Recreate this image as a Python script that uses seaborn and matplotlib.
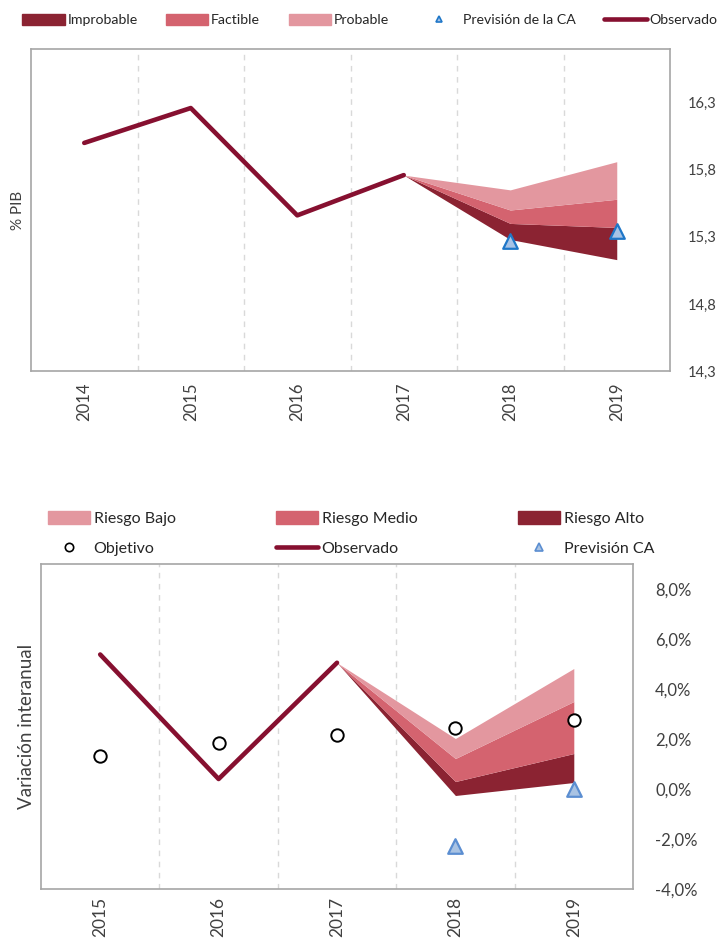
import numpy as np
import pandas as pd
import matplotlib.pyplot as plt
import seaborn as sns
from matplotlib.patches import Patch
from matplotlib.lines import Line2D
from matplotlib.ticker import FuncFormatter

sns.set_style('white')
plt.rcParams['font.family'] = ['Lato', 'DejaVu Sans']

# Data - upper chart (% PIB)

years_top = [2014, 2015, 2016, 2017, 2018, 2019]
observado_top = [16.00, 16.26, 15.46, 15.76, np.nan, np.nan]
prevision_top = [np.nan, np.nan, np.nan, np.nan, 15.27, 15.34]
fan_years_top = [2017, 2018, 2019]
improbable_low = [15.76, 15.28, 15.13]
improbable_high = [15.76, 15.40, 15.37]
factible_high = [15.76, 15.50, 15.58]
probable_high = [15.76, 15.65, 15.86]
yticks_top = [14.3, 14.8, 15.3, 15.8, 16.3]

# Data - lower chart (variacion interanual, %)

years_bot = [2015, 2016, 2017, 2018, 2019]
observado_bot = [5.38, 0.40, 5.05, np.nan, np.nan]
objetivo_bot = [1.34, 1.86, 2.18, 2.46, 2.78]
prevision_bot = [np.nan, np.nan, np.nan, -2.26, 0.0]
fan_years_bot = [2017, 2018, 2019]
alto_low = [5.05, -0.26, 0.26]
alto_high = [5.05, 0.30, 1.42]
medio_high = [5.05, 1.22, 3.50]
bajo_high = [5.05, 2.02, 4.82]
yticks_bot = [-4, -2, 0, 2, 4, 6, 8]

# Colours

c_dark = '#8B2332'
c_mid = '#D4636F'
c_light = '#E3979F'
c_line = '#861030'
c_spine = '#A6A6A6'
c_text = '#404040'

W, H = 717, 944
fig = plt.figure(figsize=(W / 100, H / 100), dpi=100)
ax1 = fig.add_axes([31 / W, 1 - 371 / H, (670 - 31) / W, (371 - 49) / H])
ax2 = fig.add_axes([41 / W, 1 - 889 / H, (633 - 41) / W, (889 - 564) / H])


def style_axis(ax, years, ylim, yticks, fmt, xsize, ysize, xpad, ypad):
    ax.set_xlim(years[0] - 0.5, years[-1] + 0.5)
    ax.set_ylim(*ylim)
    ax.set_xticks(years)
    ax.set_xticklabels([str(y) for y in years], rotation=90)
    ax.set_xticks([y + 0.5 for y in years[:-1]], minor=True)
    ax.grid(False)
    ax.grid(axis='x', which='minor', color='#D9D9D9', ls=(0, (4, 4)), lw=1)
    ax.set_yticks(yticks)
    ax.yaxis.set_major_formatter(FuncFormatter(fmt))
    ax.yaxis.tick_right()
    ax.yaxis.set_label_position('left')
    ax.tick_params(which='both', length=0)
    ax.tick_params(axis='x', labelsize=xsize, colors=c_text, pad=xpad)
    ax.tick_params(axis='y', labelsize=ysize, colors=c_text, pad=ypad)
    for s in ax.spines.values():
        s.set_visible(True)
        s.set_color(c_spine)
        s.set_linewidth(1.2)


# Upper chart

ax1.fill_between(fan_years_top, improbable_low, improbable_high, color=c_dark, lw=0, zorder=2)
ax1.fill_between(fan_years_top, improbable_high, factible_high, color=c_mid, lw=0, zorder=2)
ax1.fill_between(fan_years_top, factible_high, probable_high, color=c_light, lw=0, zorder=2)

top_df = pd.DataFrame({'year': years_top, 'observado': observado_top, 'prevision': prevision_top})
sns.lineplot(data=top_df.dropna(subset=['observado']), x='year', y='observado',
             color=c_line, lw=3.3, ax=ax1, zorder=5)
sns.scatterplot(data=top_df.dropna(subset=['prevision']), x='year', y='prevision',
                marker='^', s=110, color='#A7C3E6', edgecolor='#1F77C8', linewidth=1.6,
                ax=ax1, zorder=6)

style_axis(ax1, years_top, (14.3, 16.7), yticks_top,
           lambda v, p: f'{v:.1f}'.replace('.', ','), 12, 10.5, 8, 13)
ax1.set_xlabel('')
ax1.set_ylabel('% PIB', fontsize=11, color=c_text, labelpad=4)

# Lower chart

ax2.fill_between(fan_years_bot, alto_low, alto_high, color=c_dark, lw=0, zorder=2)
ax2.fill_between(fan_years_bot, alto_high, medio_high, color=c_mid, lw=0, zorder=2)
ax2.fill_between(fan_years_bot, medio_high, bajo_high, color=c_light, lw=0, zorder=2)

bot_df = pd.DataFrame({'year': years_bot, 'observado': observado_bot,
                       'objetivo': objetivo_bot, 'prevision': prevision_bot})
sns.lineplot(data=bot_df.dropna(subset=['observado']), x='year', y='observado',
             color=c_line, lw=3.3, ax=ax2, zorder=5)
sns.scatterplot(data=bot_df, x='year', y='objetivo', marker='o', s=80,
                color='white', edgecolor='black', linewidth=1.4, ax=ax2, zorder=6)
sns.scatterplot(data=bot_df.dropna(subset=['prevision']), x='year', y='prevision',
                marker='^', s=110, color='#A9C3E3', edgecolor='#5B8ED1', linewidth=1.6,
                ax=ax2, zorder=6)

style_axis(ax2, years_bot, (-4, 9), yticks_bot,
           lambda v, p: f'{v:.1f}'.replace('.', ',') + '%', 12.5, 12, 6, 16)
ax2.set_xlabel('')
ax2.set_ylabel('Variación interanual', fontsize=13.5, color=c_text, labelpad=4)

# Legends

top_handles = [
    Patch(color=c_dark),
    Patch(color=c_mid),
    Patch(color=c_light),
    Line2D([], [], ls='', marker='^', markersize=5, mfc='#A7C3E6', mec='#1F77C8', mew=1.2),
    Line2D([], [], color=c_line, lw=3.3),
]
top_labels = ['Improbable', 'Factible', 'Probable', 'Previsión de la CA', 'Observado']
fig.legend(top_handles, top_labels, loc='center left', bbox_to_anchor=(22 / W, 1 - 20 / H),
           ncol=5, frameon=False, fontsize=10.2, handlelength=3.0, handleheight=0.85,
           handletextpad=0.2, columnspacing=2.0, borderpad=0, borderaxespad=0,
           labelcolor='#262626')

bot_handles = [
    Patch(color=c_light),
    Line2D([], [], ls='', marker='o', markersize=6, mfc='white', mec='black', mew=1.2),
    Patch(color=c_mid),
    Line2D([], [], color=c_line, lw=3.3),
    Patch(color=c_dark),
    Line2D([], [], ls='', marker='^', markersize=6, mfc='#A9C3E3', mec='#5B8ED1', mew=1.2),
]
bot_labels = ['Riesgo Bajo', 'Objetivo', 'Riesgo Medio', 'Observado', 'Riesgo Alto', 'Previsión CA']
fig.legend(bot_handles, bot_labels, loc='upper left', bbox_to_anchor=(48 / W, 1 - 511 / H),
           ncol=3, frameon=False, fontsize=11.5, handlelength=2.65, handleheight=0.9,
           handletextpad=0.2, columnspacing=6.3, labelspacing=0.95, borderpad=0,
           borderaxespad=0, labelcolor='#262626')

fig.savefig('out.png', dpi=100)
